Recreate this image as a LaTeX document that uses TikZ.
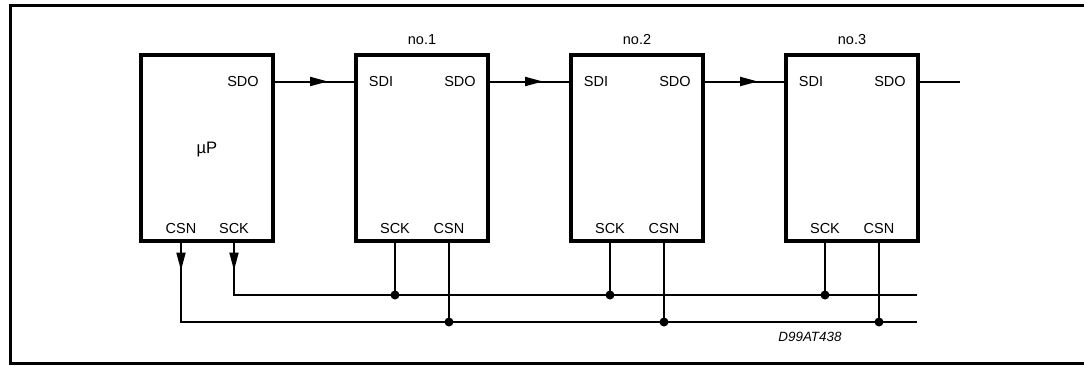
\documentclass[tikz,border=0pt]{standalone}
\usepackage{fontspec}
\setmainfont{Liberation Sans}
\usetikzlibrary{arrows.meta, positioning, decorations.markings}

\begin{document}
\begin{tikzpicture}[x=0.5pt, y=-0.5pt, node distance=39.5pt, font=\fontsize{7.25}{8}\selectfont]
    % Styles
    \tikzstyle{chip} = [rectangle, draw, line width=2pt, minimum width=66pt, minimum height=93pt, inner sep=0pt]
    \tikzstyle{pin} = [inner sep=0pt, anchor=center]
    \tikzstyle{wire} = [line width=1pt]
    \tikzstyle{flow} = [wire, postaction={decorate}, decoration={markings, mark=at position 26.5pt with {\arrow{Triangle[length=9pt,width=4.5pt]}}}]
    \tikzstyle{flowdown} = [wire, postaction={decorate}, decoration={markings, mark=at position 15pt with {\arrow{Triangle[length=9pt,width=4.5pt]}}}]
    \tikzstyle{dot} = [circle, fill, inner sep=0pt, minimum size=4.5pt]

    \useasboundingbox (0,0) rectangle (1084,365);
    \draw [line width=1.5pt] (1100,5) -- (10,5) -- (10,363) -- (1100,363);

    % Nodes
    \node [chip] (up) at (207,147.5) {};
    \node [chip, right=of up] (c1) {};
    \node [chip, right=of c1] (c2) {};
    \node [chip, right=of c2] (c3) {};

    \node [font=\fontsize{8.3}{9}\selectfont] at ([yshift=-1.25pt]up.center) {µP};
    \node [pin] at ([xshift=-16pt, yshift=-14.5pt]up.north east) {SDO};
    \node [pin] at ([xshift=21pt, yshift=7pt]up.south west) {CSN};
    \node [pin] at ([xshift=47.5pt, yshift=7pt]up.south west) {SCK};

    \node [pin] at ([yshift=6.5pt]c1.north) {no.1};
    \node [pin] at ([yshift=6.5pt]c2.north) {no.2};
    \node [pin] at ([yshift=6.5pt]c3.north) {no.3};

    \foreach \c in {c1, c2, c3} {
        \node [pin] at ([xshift=13.5pt, yshift=-14.5pt]\c.north west) {SDI};
        \node [pin] at ([xshift=-15pt, yshift=-14.5pt]\c.north east) {SDO};
        \node [pin] at ([xshift=20.5pt, yshift=7pt]\c.south west) {SCK};
        \node [pin] at ([xshift=47.5pt, yshift=7pt]\c.south west) {CSN};
        \coordinate (\c sck) at ([xshift=20.5pt, yshift=1pt]\c.south west);
        \coordinate (\c csn) at ([xshift=47.5pt, yshift=1pt]\c.south west);
    }

    \coordinate (upcsn) at ([xshift=21pt, yshift=1pt]up.south west);
    \coordinate (upsck) at ([xshift=47.5pt, yshift=1pt]up.south west);
    \coordinate (sckend) at (917,295);
    \coordinate (csnend) at (917,322);
    \coordinate (sdoout) at ([xshift=20pt, yshift=-14.5pt]c3.north east);

    \node [font=\fontsize{6.7}{8}\selectfont\itshape] (code) at (810,337) {D99AT438};

    % Arrows
    \draw [flow] ([yshift=-14.5pt]up.north east) -- ([yshift=-14.5pt]c1.north west);
    \draw [flow] ([yshift=-14.5pt]c1.north east) -- ([yshift=-14.5pt]c2.north west);
    \draw [flow] ([yshift=-14.5pt]c2.north east) -- ([yshift=-14.5pt]c3.north west);
    \draw [wire] ([yshift=-14.5pt]c3.north east) -- (sdoout);

    \draw [flowdown] (upsck) |- (sckend);
    \draw [flowdown] (upcsn) |- (csnend);

    \foreach \c in {c1, c2, c3} {
        \draw [wire] (\c sck) -- (\c sck |- sckend) node [dot] {};
        \draw [wire] (\c csn) -- (\c csn |- csnend) node [dot] {};
    }
\end{tikzpicture}
\end{document}
